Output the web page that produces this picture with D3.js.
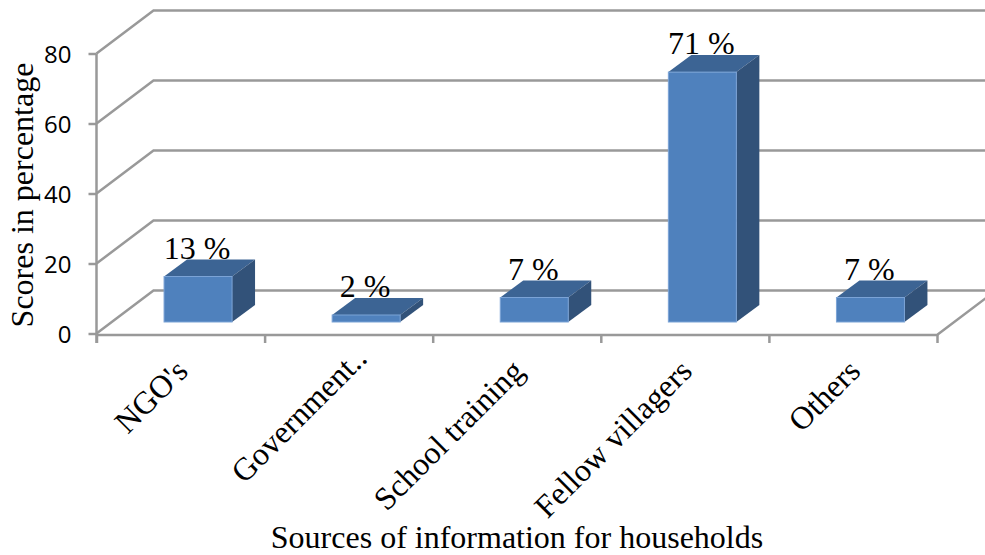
<!DOCTYPE html>
<html>
<head>
  <script src="https://d3js.org/d3.v7.min.js"></script>
  <style>
    html, body { margin: 0; padding: 0; background: #fff; overflow: hidden; }
    .grid { fill: none; stroke: #999; stroke-width: 2.5; }
    .y-axis path, .x-axis path { display: none; }
    .y-axis line, .x-axis line { stroke: #999; stroke-width: 2.5; }
    .y-axis text { font-family: "Open Sans", sans-serif; font-size: 24px; fill: #000; }
    .x-axis text, .label, .axis-title { font-family: "Liberation Serif", serif; font-size: 32px; fill: #000; }
    .front { fill: #4f81bd; stroke: #7ba3d6; stroke-width: 1; }
    .top { fill: #3c6494; }
    .side { fill: #325279; }
  </style>
</head>
<body>
  <div id="chart"></div>

  <script>
    var categories = ["NGO's", "Government..", "School training", "Fellow villagers", "Others"];
    var scores = [13, 2, 7, 71.4, 7];
    var scoreLabels = ["13 %", "2 %", "7 %", "71 %", "7 %"];
    var yTicks = [0, 20, 40, 60, 80];

    var width = 985, height = 555;
    var depth = { x: 57, y: -43 };      // floor depth of the 3d box
    var barDepth = { x: 23, y: -17 };   // depth of a single bar
    var floorY = 335;

    var svg = d3.select("#chart").append("svg")
      .attr("width", width)
      .attr("height", height);

    var x = d3.scaleBand()
      .domain(categories)
      .range([96.5, 937])
      .paddingInner(0)
      .paddingOuter(0);

    var y = d3.scaleLinear()
      .domain([0, 80])
      .range([333.5, 53.5]);

    // bars sit a little in front of the back wall
    var barWidth = 68;
    var barLeft = function(d) { return x(d) + x.bandwidth() / 2 - barWidth / 2 + 17.5; };
    var barBase = y(0) - 11.5;
    var barHeight = function(v) { return y(0) - y(v); };

    // back wall lines with their diagonal on the left side
    svg.selectAll(".grid")
      .data(yTicks)
      .enter()
      .append("path")
      .attr("class", "grid")
      .attr("d", function(d) {
        return "M" + x.range()[0] + "," + y(d) +
          "L" + (x.range()[0] + depth.x) + "," + (y(d) + depth.y) +
          "L" + width + "," + (y(d) + depth.y);
      });

    // floor front edge and right diagonal
    svg.append("path")
      .attr("class", "grid")
      .attr("d", "M" + x.range()[0] + "," + floorY +
        "L" + x.range()[1] + "," + floorY +
        "L" + (x.range()[1] + depth.x) + "," + (floorY + depth.y));

    // y axis
    var yAxis = svg.append("g")
      .attr("class", "y-axis")
      .attr("transform", "translate(" + x.range()[0] + ",0)")
      .call(d3.axisLeft(y).tickValues(yTicks).tickSize(8).tickPadding(17));
    yAxis.selectAll("text").attr("dy", "0.38em");
    yAxis.append("line")
      .attr("y1", y(80))
      .attr("y2", floorY + 8);

    // x axis ticks are on the band edges, so draw with a band-edge scale
    var xEdges = d3.scalePoint()
      .domain(d3.range(categories.length + 1))
      .range(x.range());

    svg.append("g")
      .attr("class", "x-axis")
      .attr("transform", "translate(0," + floorY + ")")
      .call(d3.axisBottom(xEdges).tickSize(8).tickFormat(""));

    svg.selectAll(".label")
      .data(categories)
      .enter()
      .append("text")
      .attr("class", "label")
      .attr("x", function(d) { return barLeft(d) + barWidth / 2 - 1; })
      .attr("y", function(d, i) { return barBase - barHeight(scores[i]) + barDepth.y - 1; })
      .attr("text-anchor", "middle")
      .text(function(d, i) { return scoreLabels[i]; });

    var bars = svg.selectAll(".bar")
      .data(categories)
      .enter()
      .append("g")
      .attr("class", "bar");

    bars.append("path")
      .attr("class", "top")
      .attr("d", function(d, i) {
        var l = barLeft(d), t = barBase - barHeight(scores[i]);
        return "M" + l + "," + t + "l" + barDepth.x + "," + barDepth.y +
          "h" + barWidth + "l" + (-barDepth.x) + "," + (-barDepth.y) + "Z";
      });

    bars.append("path")
      .attr("class", "side")
      .attr("d", function(d, i) {
        var r = barLeft(d) + barWidth, t = barBase - barHeight(scores[i]);
        return "M" + r + "," + t + "l" + barDepth.x + "," + barDepth.y +
          "V" + (barBase + barDepth.y) + "l" + (-barDepth.x) + "," + (-barDepth.y) + "Z";
      });

    bars.append("rect")
      .attr("class", "front")
      .attr("x", barLeft)
      .attr("y", function(d, i) { return barBase - barHeight(scores[i]); })
      .attr("width", barWidth)
      .attr("height", function(d, i) { return barHeight(scores[i]); });

    // slanted category labels, the cut off one sits a bit higher
    svg.selectAll(".cat")
      .data(categories)
      .enter()
      .append("g")
      .attr("class", "x-axis")
      .append("text")
      .attr("text-anchor", "end")
      .attr("transform", function(d, i) {
        var dx = i == 1 ? 11 : 0, dy = i == 1 ? -13 : 0;
        return "translate(" + (x(d) + x.bandwidth() / 2 + 9 + dx) + "," + (373 + dy) + ") rotate(-45)";
      })
      .text(function(d) { return d; });

    svg.append("text")
      .attr("class", "axis-title")
      .attr("x", 517)
      .attr("y", 548)
      .attr("text-anchor", "middle")
      .text("Sources of information for households");

    svg.append("text")
      .attr("class", "axis-title")
      .attr("transform", "translate(33,195) rotate(-90)")
      .attr("text-anchor", "middle")
      .text("Scores in percentage");
  </script>
</body>
</html>
